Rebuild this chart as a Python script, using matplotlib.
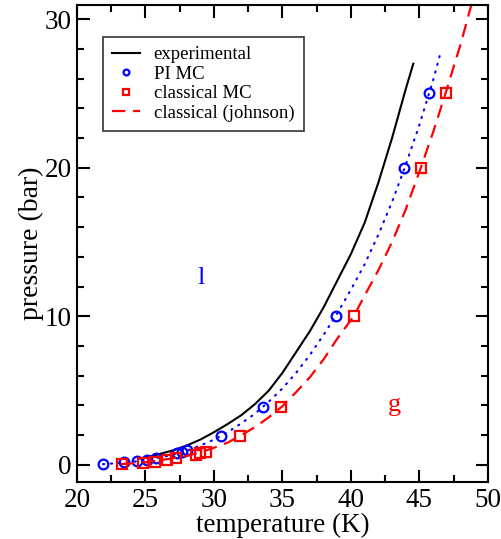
import matplotlib
matplotlib.use("Agg")
import matplotlib.pyplot as plt
from matplotlib.ticker import MultipleLocator

plt.rcParams["font.family"] = ["Liberation Serif", "DejaVu Serif"]
plt.rcParams["mathtext.fontset"] = "stix"

# experimental vapour pressure curve
exp_T = [24.6, 25.5, 26.5, 27.1, 28.0, 29.0, 30.0, 31.0, 32.0, 33.0, 34.0, 35.0,
         36.0, 37.0, 38.0, 39.0, 40.0, 41.0, 42.0, 43.0, 44.0, 44.55]
exp_P = [0.43, 0.6, 0.85, 1.0, 1.3, 1.7, 2.2, 2.75, 3.35, 4.1, 5.0, 6.2,
         7.6, 9.0, 10.6, 12.4, 14.2, 16.3, 19.0, 22.0, 25.3, 27.0]

# path-integral MC points
pimc_T = [21.9, 23.4, 24.4, 25.1, 25.8, 27.3, 27.7, 28.0, 30.5, 33.6, 38.9, 43.9, 45.7]
pimc_P = [0.05, 0.2, 0.25, 0.35, 0.45, 0.8, 0.9, 1.0, 1.95, 3.9, 10.0, 20.0, 25.0]

# dotted guide through PI MC
pimc_fit_T = [21.9, 23, 24, 25, 26, 27, 28, 29, 30, 31, 32, 33, 34, 35, 36, 37,
              38, 39, 40, 41, 42, 43, 44, 45, 46, 46.5]
pimc_fit_P = [0.05, 0.12, 0.2, 0.32, 0.48, 0.68, 0.95, 1.3, 1.7, 2.2, 2.8, 3.45,
              4.25, 5.15, 6.2, 7.4, 8.75, 10.2, 11.8, 13.5, 15.5, 17.7, 20.2, 22.9,
              25.9, 27.6]

# classical MC points
cmc_T = [23.3, 24.8, 25.7, 26.6, 27.2, 28.7, 29.0, 29.4, 31.9, 34.9, 40.2, 45.1, 46.9]
cmc_P = [0.05, 0.11, 0.22, 0.34, 0.45, 0.67, 0.78, 0.9, 1.97, 3.92, 10.0, 20.0, 25.0]

# classical (johnson) equation of state
john_T = [23.2, 24, 25, 26, 27, 28, 29, 30, 31, 32, 33, 34, 35, 36, 37, 38, 39,
          40.2, 41, 42, 43, 44, 45.1, 46, 46.9, 48, 48.8, 49.2]
john_P = [0.05, 0.1, 0.18, 0.3, 0.45, 0.6, 0.85, 1.15, 1.5, 2.0, 2.55, 3.2, 3.95,
          4.9, 5.9, 7.1, 8.5, 10.0, 11.4, 13.1, 15.0, 17.2, 20.0, 22.4, 25.0, 28.3,
          31.0, 32.3]

fig = plt.figure(figsize=(5.01, 5.39), dpi=100)
ax = fig.add_axes([0.1537, 0.1058, 0.8203, 0.885])

ax.plot(exp_T, exp_P, color="black", lw=1.5, label="experimental")
ax.plot(pimc_fit_T, pimc_fit_P, color="blue", lw=1.5, ls=(0, (0.6, 3.2)),
        dash_capstyle="round")
ax.plot(pimc_T, pimc_P, ls="none", marker="o", ms=7, mfc="none", mec="blue",
        mew=1.6, label="PI MC")
ax.plot(cmc_T, cmc_P, ls="none", marker="s", ms=6.5, mfc="none", mec="red",
        mew=1.6, label="classical MC")
ax.plot(john_T, john_P, color="red", lw=1.6, ls=(0, (6, 3.5)),
        label="classical (johnson)")

ax.text(29.05, 12.6, "l", color="blue", fontsize=19, ha="center", va="center")
ax.text(43.2, 4.0, "g", color="red", fontsize=19, ha="center", va="center")

ax.set_xlim(20, 50)
ax.set_ylim(-1.15, 30.95)
ax.xaxis.set_major_locator(MultipleLocator(5))
ax.xaxis.set_minor_locator(MultipleLocator(2.5))
ax.yaxis.set_major_locator(MultipleLocator(10))
ax.yaxis.set_minor_locator(MultipleLocator(2))
ax.tick_params(which="both", direction="in", top=True, right=True, width=1.5,
               labelsize=19.5)
ax.tick_params(which="major", length=9, pad=4)
ax.tick_params(which="minor", length=5)
for s in ax.spines.values():
    s.set_linewidth(1.5)

ax.set_xlabel("temperature (K)", fontsize=19.5, labelpad=0)
ax.set_ylabel("pressure (bar)", fontsize=20, labelpad=0)

leg = ax.legend(loc="upper left", bbox_to_anchor=(0.063, 0.933), borderaxespad=0,
                fontsize=13.5, frameon=True, fancybox=False, edgecolor="black",
                handlelength=1.5, borderpad=0.5, labelspacing=0.12,
                handletextpad=0.7, markerscale=0.6)
leg.get_frame().set_linewidth(1.2)

fig.savefig("out.png", dpi=100)
